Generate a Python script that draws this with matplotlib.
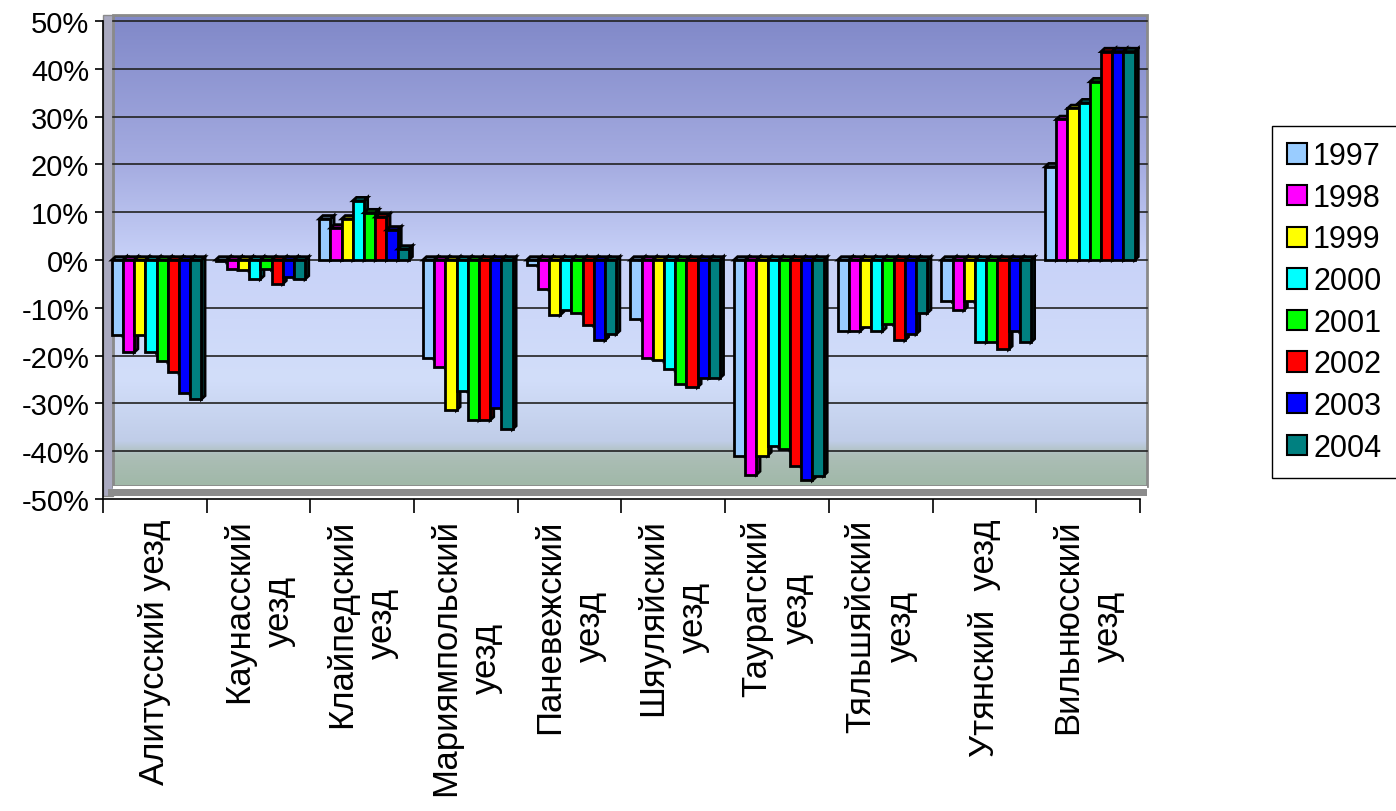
import numpy as np
import matplotlib
matplotlib.use('Agg')
import matplotlib.pyplot as plt
from matplotlib.patches import Patch, Rectangle
from matplotlib.ticker import FuncFormatter, FixedLocator

plt.rcParams['font.family'] = ['Liberation Sans', 'DejaVu Sans']

# Уезды
uezdy = ['Алитусский уезд', 'Каунасский\nуезд', 'Клайпедский\nуезд',
         'Мариямпольский\nуезд', 'Паневежский\nуезд', 'Шяуляйский\nуезд',
         'Таурагский\nуезд', 'Тяльшяйский\nуезд', 'Утянский  уезд',
         'Вильнюсский\nуезд']

years = ['1997', '1998', '1999', '2000', '2001', '2002', '2003', '2004']

v1997 = [-15.7, -0.3, 8.6, -20.5, -1.0, -12.4, -40.9, -14.9, -8.6, 19.5]
v1998 = [-19.3, -1.9, 6.7, -22.4, -6.0, -20.5, -44.9, -14.9, -10.5, 29.4]
v1999 = [-15.7, -2.1, 8.6, -31.4, -11.5, -21.0, -40.9, -14.0, -8.6, 31.7]
v2000 = [-19.3, -4.0, 12.4, -27.3, -10.5, -22.9, -39.0, -14.9, -17.2, 32.9]
v2001 = [-21.2, -1.9, 9.9, -33.5, -11.0, -26.0, -39.6, -13.4, -17.2, 37.3]
v2002 = [-23.5, -5.0, 9.0, -33.5, -13.6, -26.6, -43.0, -16.8, -18.7, 43.6]
v2003 = [-27.9, -3.6, 6.3, -31.0, -16.8, -24.7, -46.1, -15.5, -14.9, 43.6]
v2004 = [-29.1, -4.0, 2.3, -35.4, -15.5, -24.7, -45.1, -11.1, -17.2, 43.6]
series = [v1997, v1998, v1999, v2000, v2001, v2002, v2003, v2004]

colors = ['#99ccff', '#ff00ff', '#ffff00', '#00ffff', '#00ff00', '#ff0000',
          '#0000ff', '#008080']

fig = plt.figure(figsize=(13.96, 8.12), dpi=100)
ax = fig.add_axes([0.0738, 0.3842, 0.7428, 0.5887])
ax.set_xlim(-0.5, 9.5)
ax.set_ylim(-50, 50)

# фон (задняя стенка) с градиентом
stops_y = [-47.3, -41.0, -38.0, -25.0, 0.0, 20.0, 51.2]
stops_c = np.array([[160, 184, 168], [172, 190, 182], [192, 205, 232],
                    [210, 222, 250], [200, 210, 248], [165, 172, 225],
                    [128, 136, 200]]) / 255.0
yy = np.linspace(-47.3, 51.2, 400)
grad = np.stack([np.interp(yy, stops_y, stops_c[:, k]) for k in range(3)], axis=-1)
ax.imshow(grad[:, None, :], extent=[-0.404, 9.567, -47.3, 51.2], origin='lower',
          aspect='auto', zorder=0, clip_on=False, interpolation='bilinear')
ax.add_patch(Rectangle((-0.404, -47.3), 9.971, 98.5, fill=False, ec='#8a8a8a',
                       lw=2, zorder=0.5, clip_on=False))
# левая стенка и пол
ax.add_patch(Rectangle((-0.5, -49.4), 0.096, 100.6, fc='#a9a9c0', ec='#8a8a8a',
                       lw=1, zorder=0.4, clip_on=False))
ax.add_patch(Rectangle((-0.45, -49.4), 10.02, 1.6, fc='#8c8c8c', ec='none',
                       zorder=0.6, clip_on=False))
ax.add_patch(Rectangle((-0.404, -47.8), 9.971, 0.5, fc='white', ec='none',
                       zorder=0.6, clip_on=False))

# линии сетки
for g in range(-40, 51, 10):
    ax.plot([-0.404, 9.567], [g, g], color='#222222', lw=1.2, zorder=1, clip_on=False)

# столбцы с псевдо-3D
w = 0.108
start = -0.415
dx = 0.035
dy = 0.7
for i in range(len(uezdy)):
    for j, vals in enumerate(series):
        v = vals[i]
        x0 = i + start + j * w
        x1 = x0 + w
        top = max(v, 0)
        bot = min(v, 0)
        c = np.array(matplotlib.colors.to_rgb(colors[j]))
        dark = c * 0.45
        z = 2 + j * 0.02
        ax.fill([x1, x1 + dx, x1 + dx, x1], [bot, bot + dy, top + dy, top],
                facecolor=dark, edgecolor='black', lw=2.0, zorder=z)
        ax.fill([x0, x0 + dx, x1 + dx, x1], [top, top + dy, top + dy, top],
                facecolor=c * 0.75, edgecolor='black', lw=2.0, zorder=z)
        ax.bar(x0, v, width=w, align='edge', color=colors[j], edgecolor='black',
               lw=2.0, zorder=z + 0.01)

# оси
for s in ['top', 'right']:
    ax.spines[s].set_visible(False)
ax.spines['left'].set_linewidth(1.2)
ax.spines['bottom'].set_linewidth(1.2)
ax.spines['left'].set_zorder(5)
ax.spines['bottom'].set_zorder(5)

ax.yaxis.set_major_locator(FixedLocator(range(-50, 51, 10)))
ax.yaxis.set_major_formatter(FuncFormatter(lambda v, p: '%d%%' % v))
ax.tick_params(axis='y', direction='out', length=6, width=1.2, labelsize=21, pad=4)

ax.set_xticks(range(len(uezdy)))
ax.set_xticklabels(uezdy, rotation=90, fontsize=25, linespacing=1.3)
ax.set_xticks(np.arange(-0.5, 10, 1), minor=True)
ax.tick_params(axis='x', which='major', length=0, pad=14)
ax.tick_params(axis='x', which='minor', direction='out', length=10, width=1.2)

handles = [Patch(facecolor=colors[j], edgecolor='black', lw=1.5) for j in range(len(years))]
leg = fig.legend(handles, years, loc='upper left', bbox_to_anchor=(0.911, 0.8436),
                 fontsize=22, handlelength=0.65, handleheight=0.65,
                 labelspacing=0.38, handletextpad=0.2, borderpad=0.5,
                 borderaxespad=0, fancybox=False, framealpha=1, edgecolor='black')
leg.get_frame().set_linewidth(1.0)

fig.savefig('out.png', dpi=100)
